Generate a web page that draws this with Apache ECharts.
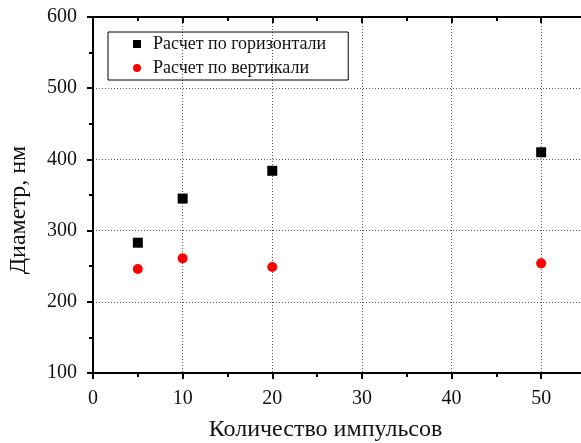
<!DOCTYPE html>
<html>
<head>
<meta charset="utf-8">
<script src="https://cdn.jsdelivr.net/npm/echarts@6/dist/echarts.min.js"></script>
<style>
  html, body { margin: 0; padding: 0; background: #fff; }
  #container { width: 581px; height: 443px; }
</style>
</head>
<body>
<div id="container"></div>
<script>
var pulses = [5, 10, 20, 50];
var horizontal = [283, 345, 384, 410];
var vertical = [246, 261, 249, 254];
var seriesNames = ["Расчет по горизонтали", "Расчет по вертикали"];

var dom = document.getElementById("container");
var myChart = echarts.init(dom, null, { renderer: "canvas" });

var font = "Liberation Serif";
var gridLine = { show: true, lineStyle: { color: "#555", type: [1, 2], width: 1 } };

var option = {
  animation: false,
  textStyle: { fontFamily: font },
  grid: { left: 93, top: 17, right: -5, bottom: 70, outerBoundsMode: "none", containLabel: false },
  legend: {
    orient: "vertical",
    left: 108,
    top: 32,
    padding: [3, 22, 3, 25],
    itemGap: 6,
    itemWidth: 8,
    itemHeight: 8,
    borderColor: "#000",
    borderWidth: 1,
    borderRadius: 0,
    textStyle: { fontFamily: font, fontSize: 18, color: "#111", padding: [0, 0, 0, 7] },
    data: [
      { name: seriesNames[0], icon: "rect", itemStyle: { color: "#000" } },
      { name: seriesNames[1], icon: "circle", itemStyle: { color: "#f00" } }
    ]
  },
  xAxis: [
    {
      type: "value",
      min: 0,
      max: 55,
      interval: 10,
      name: "Количество импульсов",
      nameLocation: "middle",
      nameGap: 45,
      nameTextStyle: { fontFamily: font, fontSize: 24, color: "#111", padding: [0, 28, 0, 0] },
      axisLine: { lineStyle: { color: "#000", width: 2 } },
      axisTick: { inside: false, length: 6, lineStyle: { color: "#000", width: 2 } },
      minorTick: { show: true, splitNumber: 2, length: 4, lineStyle: { color: "#000", width: 2 } },
      axisLabel: { fontFamily: font, fontSize: 20, color: "#111", margin: 16, showMaxLabel: false },
      splitLine: gridLine
    },
    {
      type: "value",
      position: "top",
      min: 0,
      max: 55,
      interval: 10,
      axisLine: { show: true, lineStyle: { color: "#000", width: 2 } },
      axisTick: { inside: true, length: 6, lineStyle: { color: "#000", width: 2 } },
      minorTick: { show: true, splitNumber: 2, length: 4, lineStyle: { color: "#000", width: 2 } },
      axisLabel: { show: false },
      splitLine: { show: false }
    }
  ],
  yAxis: [
    {
      type: "value",
      min: 100,
      max: 600,
      interval: 100,
      name: "Диаметр, нм",
      nameLocation: "middle",
      nameGap: 62,
      nameTextStyle: { fontFamily: font, fontSize: 24, color: "#111", padding: [0, 30, 0, 0] },
      axisLine: { show: true, lineStyle: { color: "#000", width: 2 } },
      axisTick: { show: true, inside: false, length: 6, lineStyle: { color: "#000", width: 2 } },
      minorTick: { show: true, splitNumber: 2, length: 4, lineStyle: { color: "#000", width: 2 } },
      axisLabel: { fontFamily: font, fontSize: 20, color: "#111", margin: 16 },
      splitLine: gridLine
    }
  ],
  series: [
    {
      name: seriesNames[0],
      type: "scatter",
      symbol: "rect",
      symbolSize: 10,
      itemStyle: { color: "#000", opacity: 1 },
      data: pulses.map(function (p, i) { return [p, horizontal[i]]; })
    },
    {
      name: seriesNames[1],
      type: "scatter",
      symbol: "circle",
      symbolSize: 10,
      itemStyle: { color: "#f00", opacity: 1 },
      data: pulses.map(function (p, i) { return [p, vertical[i]]; })
    }
  ]
};

myChart.setOption(option);
window.addEventListener("resize", myChart.resize);
</script>
</body>
</html>
